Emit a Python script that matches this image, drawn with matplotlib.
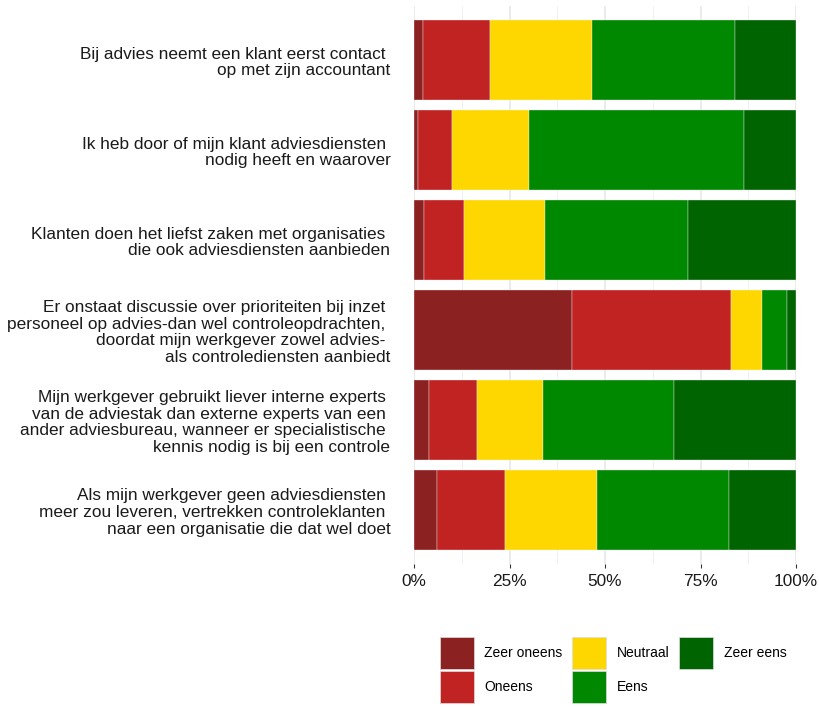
import matplotlib
matplotlib.use("Agg")
import matplotlib.pyplot as plt
import matplotlib.patches as mpatches
import numpy as np

plt.rcParams['font.family'] = ['Liberation Sans', 'DejaVu Sans']

statements = [
    "Bij advies neemt een klant eerst contact \nop met zijn accountant",
    "Ik heb door of mijn klant adviesdiensten \nnodig heeft en waarover",
    "Klanten doen het liefst zaken met organisaties \ndie ook adviesdiensten aanbieden",
    "Er onstaat discussie over prioriteiten bij inzet \npersoneel op advies-dan wel controleopdrachten, \ndoordat mijn werkgever zowel advies- \nals controlediensten aanbiedt",
    "Mijn werkgever gebruikt liever interne experts \nvan de adviestak dan externe experts van een \nander adviesbureau, wanneer er specialistische \nkennis nodig is bij een controle",
    "Als mijn werkgever geen adviesdiensten \nmeer zou leveren, vertrekken controleklanten \nnaar een organisatie die dat wel doet",
]

categories = ["Zeer oneens", "Oneens", "Neutraal", "Eens", "Zeer eens"]
zeer_oneens = [2.4, 1.0, 2.6, 41.3, 3.8, 5.9]
oneens = [17.5, 8.9, 10.4, 41.7, 12.8, 18.0]
neutraal = [26.6, 20.2, 21.4, 8.0, 17.2, 23.9]
eens = [37.5, 56.3, 37.4, 6.6, 34.2, 34.7]
zeer_eens = [16.0, 13.6, 28.2, 2.4, 32.0, 17.5]

colors = ["#8c2121", "#c12323", "#ffd700", "#008800", "#006400"]

series = [zeer_oneens, oneens, neutraal, eens, zeer_eens]

fig = plt.figure(figsize=(8.19, 7.07), dpi=100)
ax = fig.add_axes([414/819, 1 - 564/707, 382/819, 558/707])

y = np.arange(len(statements))
left = np.zeros(len(statements))
for vals, col, name in zip(series, colors, categories):
    v = np.array(vals) / 100.0
    ax.barh(y, v, left=left, height=0.89, color=col, edgecolor='#f6f6f6',
            linewidth=0.25, label=name, zorder=3)
    left += v

ax.set_xlim(0, 1)
ax.set_ylim(len(statements) - 0.5 + 0.1, -0.5 - 0.1)
ax.set_xticks([0, 0.25, 0.5, 0.75, 1.0])
ax.set_xticklabels(["0%", "25%", "50%", "75%", "100%"])
ax.set_xticks([0.125, 0.375, 0.625, 0.875], minor=True)
ax.set_yticks(y)
ax.set_yticklabels(statements, fontsize=12.4, color='#1a1a1a', linespacing=1.15)
ax.tick_params(axis='y', length=0, pad=17)
ax.tick_params(axis='x', which='major', length=3, color='#333333', labelsize=12.4,
               labelcolor='#1a1a1a', pad=4)
ax.tick_params(axis='x', which='minor', length=0)
ax.grid(True, axis='x', which='major', color='#e5e5e5', linewidth=1.1, zorder=0)
ax.grid(True, axis='x', which='minor', color='#efefef', linewidth=0.6, zorder=0)
for s in ax.spines.values():
    s.set_visible(False)

handles = [mpatches.Patch(facecolor=c, edgecolor='#dddddd', linewidth=0.5, label=n)
           for c, n in zip(colors, categories)]
fig.legend(handles=handles, ncol=3, loc='center', bbox_to_anchor=(613/819, 1 - 670/707),
           frameon=False, fontsize=10, handlelength=2.45, handleheight=3.15,
           handletextpad=0.75, columnspacing=0.7, labelspacing=0.15)

fig.savefig("out.png", dpi=100, facecolor='white')
